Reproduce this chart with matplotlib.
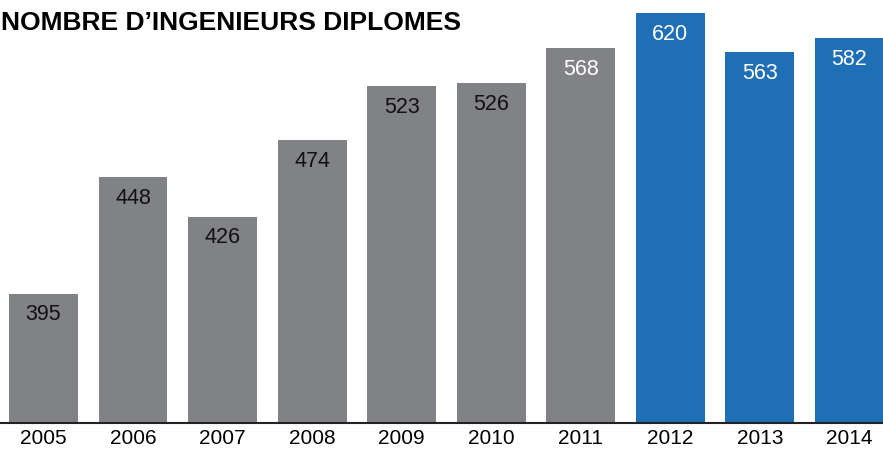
## BAR CHART: NOMBRE D'INGENIEURS DIPLOMES 2005-2014
import matplotlib
matplotlib.use('Agg')
import matplotlib.pyplot as plt
import numpy as np

## DATA
years = ['2005', '2006', '2007', '2008', '2009', '2010', '2011', '2012', '2013', '2014']
graduates = [395, 448, 426, 474, 523, 526, 568, 620, 563, 582]
highlight = [False, False, False, False, False, False, False, True, True, True]
label_white = [False, False, False, False, False, False, True, True, True, True]

GREY = '#818286'
BLUE = '#1e6fb6'

## Y SCALE: the original slide uses a compressed, truncated axis
OFFSET = 340.0
def forward(v):
    return np.log(np.clip(np.asarray(v, dtype=float) - OFFSET, 1e-6, None))
def inverse(y):
    return np.exp(y) + OFFSET

plt.rcParams['font.family'] = ['Liberation Sans', 'DejaVu Sans']

fig = plt.figure(figsize=(8.83, 4.52), dpi=100)
ax = fig.add_axes([0, 0.062, 1, 0.938])
ax.set_yscale('function', functions=(forward, inverse))

x = np.arange(len(years))
colors = [BLUE if h else GREY for h in highlight]
bars = ax.bar(x, graduates, width=0.77, color=colors, zorder=2)

## VALUE LABELS inside bars
for xi, v, w in zip(x, graduates, label_white):
    ax.annotate(str(v), (xi, v), xytext=(0, -14.5), textcoords='offset points',
                ha='center', va='center', fontsize=15.5,
                color='white' if w else '#111111')

ax.set_ylim(366, 643.5)
ax.set_xlim(-0.485, 9.374)
ax.set_xticks(x)
ax.set_xticklabels(years, fontsize=15)
ax.tick_params(axis='x', length=0, pad=3.5)
ax.set_yticks([])
ax.yaxis.set_minor_locator(matplotlib.ticker.NullLocator())
for s in ['top', 'left', 'right']:
    ax.spines[s].set_visible(False)
ax.spines['bottom'].set_color('#222222')
ax.spines['bottom'].set_linewidth(1.5)
ax.spines['bottom'].set_zorder(3)

## TITLE
fig.text(0.001, 0.950, 'NOMBRE D\u2019INGENIEURS DIPLOMES', ha='left', va='center',
         fontsize=19, fontweight='bold', color='black')

plt.savefig('out.png', dpi=100)
